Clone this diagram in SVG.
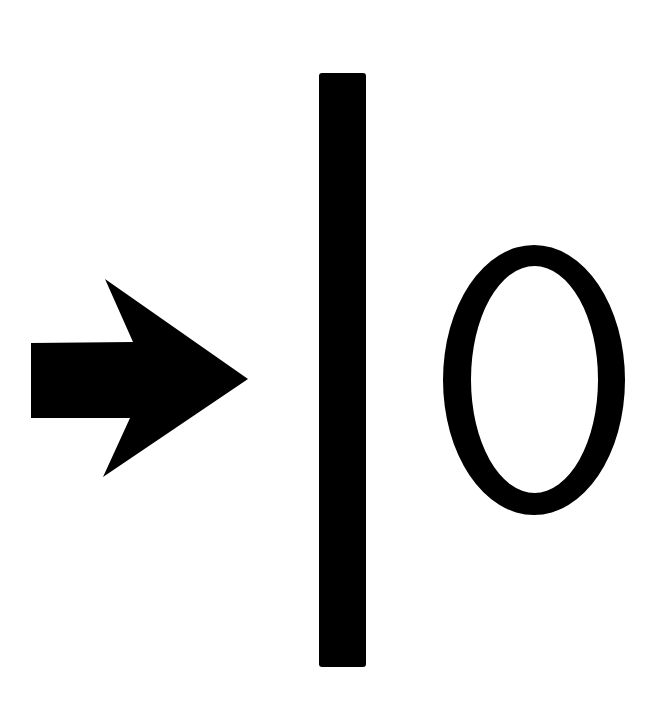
<svg xmlns="http://www.w3.org/2000/svg" width="670" height="705" viewBox="0 0 670 705">
<style>.k{fill:#000;stroke:none}</style>
<rect width="670" height="705" fill="#fff"/>
<g id="arrow"><path class="k" d="M31,343 L133,342 L105,279 L248,379 L103,477 L130,418 L31,418 Z"/></g>
<g id="bar"><rect class="k" x="319" y="73" width="47" height="594" rx="3"/></g>
<g id="ring"><path class="k" fill-rule="evenodd" d="M443,380 A91,135 0 1 0 625,380 A91,135 0 1 0 443,380 Z M471,379.5 A63.5,113.5 0 1 0 598,379.5 A63.5,113.5 0 1 0 471,379.5 Z"/></g>
<g id="connectors"/>
</svg>
